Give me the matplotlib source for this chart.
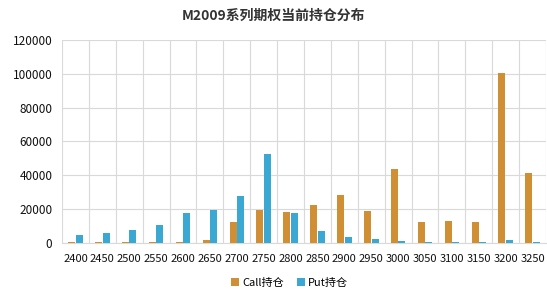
import matplotlib
matplotlib.use('Agg')
import matplotlib.pyplot as plt
import numpy as np

plt.rcParams['font.family'] = ['Noto Sans CJK SC', 'DejaVu Sans']

strikes = ['2400', '2450', '2500', '2550', '2600', '2650', '2700', '2750', '2800',
           '2850', '2900', '2950', '3000', '3050', '3100', '3150', '3200', '3250']
call_oi = [400, 400, 400, 400, 400, 1700, 12200, 19600, 18100, 22500, 28200, 19100,
           43800, 12400, 13000, 12400, 100500, 41500]
put_oi = [4600, 6100, 7900, 10600, 17800, 19600, 27700, 52900, 17500, 6800, 3600, 2300,
          1100, 400, 400, 400, 1700, 400]

call_color = '#D08F35'
put_color = '#3AA8D3'
grid_color = '#D9D9D9'

fig = plt.figure(figsize=(5.47, 2.91), dpi=100)
ax = fig.add_axes([0.1133, 0.165, 0.885, 0.6975])

x = np.arange(len(strikes))
w = 0.26
ax.bar(x - 0.14, call_oi, w, color=call_color, label='Call持仓', zorder=3)
ax.bar(x + 0.14, put_oi, w, color=put_color, label='Put持仓', zorder=3)

ax.set_xlim(-0.5, len(strikes) - 0.5)
ax.set_ylim(0, 120000)
ax.set_yticks(np.arange(0, 120001, 20000))
ax.set_xticks(x)
ax.set_xticklabels(strikes)
ax.set_xticks(np.arange(-0.5, len(strikes), 1), minor=True)

ax.grid(axis='y', color=grid_color, linewidth=0.8, zorder=0)
ax.grid(axis='x', which='minor', color=grid_color, linewidth=0.8, zorder=0)
ax.grid(axis='x', which='major', visible=False)
for s in ['top', 'right', 'left']:
    ax.spines[s].set_visible(False)
ax.spines['bottom'].set_color(grid_color)
ax.tick_params(which='both', length=0)
ax.tick_params(axis='x', labelsize=8, pad=8, colors='#111111')
ax.tick_params(axis='y', labelsize=8.5, pad=7, colors='#111111')

fig.suptitle('M2009系列期权当前持仓分布', fontsize=10, fontweight='bold',
             color='#333333', y=0.97)

ax.legend(loc='center', bbox_to_anchor=(0.47, -0.195), ncol=2, frameon=False,
          fontsize=8, handlelength=0.7, handleheight=0.7, handletextpad=0.3,
          columnspacing=1.2, borderpad=0.1)

fig.savefig('out.png', dpi=100)
